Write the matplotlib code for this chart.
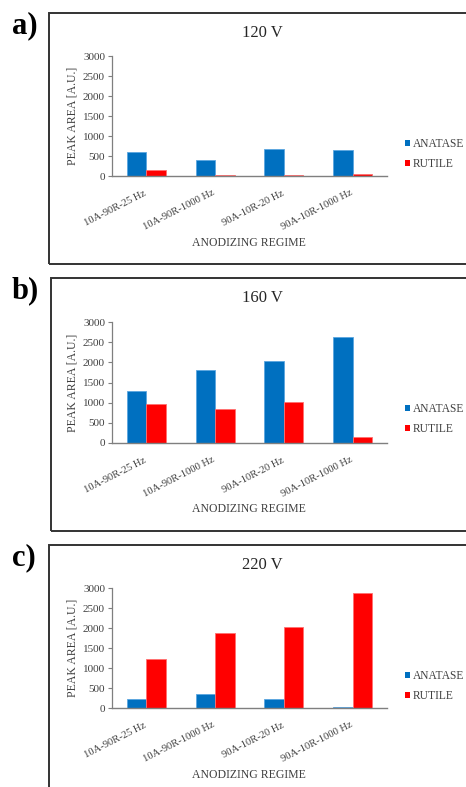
import matplotlib
matplotlib.use("Agg")
import matplotlib.pyplot as plt
from matplotlib.patches import Rectangle, Patch
import numpy as np

plt.rcParams["font.family"] = ["Liberation Serif", "DejaVu Serif"]

# Data
regimes = ["10A-90R-25 Hz", "10A-90R-1000 Hz", "90A-10R-20 Hz", "90A-10R-1000 Hz"]
series_names = ["ANATASE", "RUTILE"]
panel_tags = ["a)", "b)", "c)"]
voltages = ["120 V", "160 V", "220 V"]

anatase_120 = [600, 405, 675, 660]
rutile_120 = [145, 30, 25, 45]
anatase_160 = [1300, 1800, 2040, 2620]
rutile_160 = [970, 855, 1025, 150]
anatase_220 = [235, 357, 233, 25]
rutile_220 = [1230, 1870, 2035, 2865]

y_ticks = [0, 500, 1000, 1500, 2000, 2500, 3000]

anatase_all = [anatase_120, anatase_160, anatase_220]
rutile_all = [rutile_120, rutile_160, rutile_220]

W, H = 466, 787
fig = plt.figure(figsize=(W / 100, H / 100), dpi=100)
fig.patch.set_facecolor("white")

BLUE = "#0070C0"
RED = "#FF0000"
TXT = "#404040"
AXC = "#7f7f7f"


def fx(px):
    return px / W


def fy(py):
    return 1 - py / H


# pixel layout of each panel: frame (left, top, bottom), plot area (top, bottom),
# title y, legend centre y, x-label y, tag y
layout = [
    dict(box=(49, 13, 264), ax=(56, 176), title=33, leg=154, xl=243, tag=26),
    dict(box=(51, 278, 531), ax=(322, 443), title=298, leg=419, xl=509, tag=291),
    dict(box=(49, 545, 800), ax=(588, 708), title=565, leg=686, xl=775, tag=558),
]

ax_left, ax_right = 112, 387
x = np.arange(len(regimes))
bw = 0.285

for i, L in enumerate(layout):
    bx, btop, bbot = L["box"]
    fig.patches.append(Rectangle((fx(bx), fy(bbot)), fx(W + 20) - fx(bx), fy(btop) - fy(bbot),
                                 transform=fig.transFigure, fill=False,
                                 edgecolor="#333333", linewidth=1.4, zorder=0))
    atop, abot = L["ax"]
    ax = fig.add_axes([fx(ax_left), fy(abot), fx(ax_right) - fx(ax_left), fy(atop) - fy(abot)])
    ax.bar(x - bw / 2, anatase_all[i], width=bw, color=BLUE, edgecolor="#5aa6e0", linewidth=0.6,
           label=series_names[0])
    ax.bar(x + bw / 2, rutile_all[i], width=bw, color=RED, edgecolor="#ff7070", linewidth=0.6,
           label=series_names[1])
    ax.set_xlim(-0.5, len(regimes) - 0.5)
    ax.set_ylim(0, 3000)
    ax.set_yticks(y_ticks)
    ax.set_yticklabels([str(t) for t in y_ticks], fontsize=8, color=TXT)
    ax.set_xticks(x - 0.04)
    ax.set_xticklabels(regimes, fontsize=7.6, color=TXT, rotation=27, ha="right", va="top",
                       rotation_mode="anchor")
    ax.tick_params(axis="x", length=0, pad=9)
    ax.tick_params(axis="y", length=3, width=0.8, color=AXC, pad=2)
    for s in ["top", "right"]:
        ax.spines[s].set_visible(False)
    ax.spines["left"].set_color(AXC)
    ax.spines["bottom"].set_color(AXC)
    ax.spines["left"].set_linewidth(0.9)
    ax.spines["bottom"].set_linewidth(1.0)
    ax.set_ylabel("PEAK AREA [A.U.]", fontsize=8.5, color=TXT, labelpad=3)
    ax.set_facecolor("none")

    fig.text(fx(262), fy(L["title"]), voltages[i], fontsize=12, color="#262626",
             ha="center", va="center")
    fig.text(fx(249), fy(L["xl"]), "ANODIZING REGIME", fontsize=8.5, color=TXT,
             ha="center", va="center")
    fig.text(fx(12), fy(L["tag"]), panel_tags[i], fontsize=22, fontweight="bold",
             color="black", ha="left", va="center")

    handles = [Patch(facecolor=BLUE, edgecolor="none"), Patch(facecolor=RED, edgecolor="none")]
    fig.legend(handles, series_names, loc="center left",
               bbox_to_anchor=(fx(405), fy(L["leg"])), frameon=False, fontsize=8.3,
               handlelength=0.45, handleheight=0.45, handletextpad=0.2,
               labelspacing=0.7, borderpad=0, borderaxespad=0, labelcolor=TXT)

fig.savefig("out.png", dpi=100, facecolor="white")
